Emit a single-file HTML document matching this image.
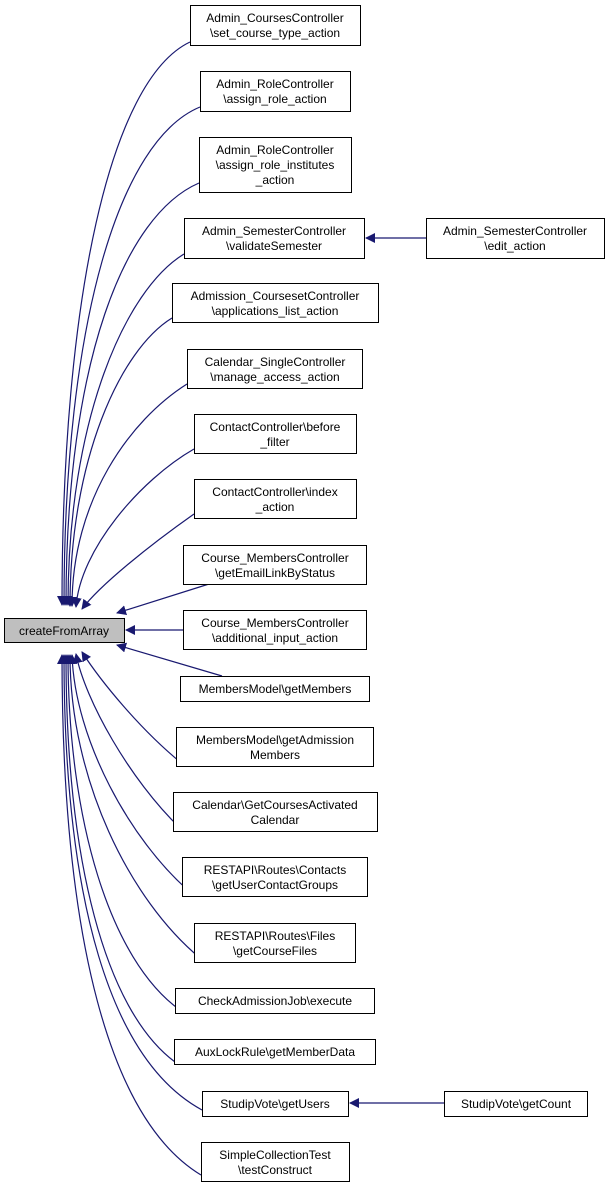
<!DOCTYPE html>
<html><head><meta charset="utf-8"><style>
body{margin:0;background:#fff;}
svg text{font-family:"Liberation Sans",Arial,sans-serif;font-size:12px;fill:#000;text-anchor:middle;}
</style></head><body>
<svg width="611" height="1188" viewBox="0 0 611 1188" xmlns="http://www.w3.org/2000/svg">
<defs><marker id="a" viewBox="0 0 10 10" refX="9" refY="5" markerWidth="10" markerHeight="10" markerUnits="userSpaceOnUse" orient="auto"><path d="M0,0 L10,5 L0,10 z" fill="#191970"/></marker></defs>
<g fill="none" stroke="#191970" stroke-width="1.2">
<path d="M190,42 C110,80 62,300 62,605" marker-end="url(#a)"/>
<path d="M200,107 C120,140 64,320 64,605" marker-end="url(#a)"/>
<path d="M199,183 C125,215 66,360 66,605" marker-end="url(#a)"/>
<path d="M184,254 C125,290 68,420 68,605" marker-end="url(#a)"/>
<path d="M172,318 C120,350 70,460 70,606" marker-end="url(#a)"/>
<path d="M187,384 C130,420 72,500 72,606" marker-end="url(#a)"/>
<path d="M194,449 C140,480 80,550 76,607" marker-end="url(#a)"/>
<path d="M194,514 C150,545 100,585 82,609" marker-end="url(#a)"/>
<path d="M209,584 L117,613" marker-end="url(#a)"/>
<path d="M183,630 L126,630" marker-end="url(#a)"/>
<path d="M222,676 L117,645" marker-end="url(#a)"/>
<path d="M185,766 C140,730 100,680 82,652" marker-end="url(#a)"/>
<path d="M180,828 C130,780 85,700 76,654" marker-end="url(#a)"/>
<path d="M190,892 C130,840 75,740 72,655" marker-end="url(#a)"/>
<path d="M200,958 C130,900 70,780 70,655" marker-end="url(#a)"/>
<path d="M180,1010 C110,960 68,820 68,655" marker-end="url(#a)"/>
<path d="M175,1062 C105,1010 66,860 66,655" marker-end="url(#a)"/>
<path d="M202,1110 C110,1060 64,900 64,655" marker-end="url(#a)"/>
<path d="M201,1175 C110,1120 62,940 62,655" marker-end="url(#a)"/>
<path d="M426,238 L366,238" marker-end="url(#a)"/>
<path d="M444,1103 L350,1103" marker-end="url(#a)"/>
</g>
<g fill="#fff" stroke="#000" stroke-width="1">
<rect x="4.5" y="618.5" width="120" height="24" fill="#bfbfbf"/>
<rect x="190.5" y="5.5" width="170" height="40"/>
<rect x="200.5" y="71.5" width="150" height="40"/>
<rect x="199.5" y="137.5" width="152" height="55"/>
<rect x="184.5" y="218.5" width="180" height="40"/>
<rect x="426.5" y="218.5" width="178" height="40"/>
<rect x="172.5" y="283.5" width="206" height="39"/>
<rect x="187.5" y="349.5" width="175" height="39"/>
<rect x="194.5" y="414.5" width="162" height="39"/>
<rect x="194.5" y="479.5" width="162" height="39"/>
<rect x="183.5" y="545.5" width="183" height="39"/>
<rect x="183.5" y="610.5" width="183" height="39"/>
<rect x="180.5" y="676.5" width="189" height="25"/>
<rect x="176.5" y="727.5" width="197" height="39"/>
<rect x="173.5" y="792.5" width="204" height="39"/>
<rect x="182.5" y="857.5" width="185" height="39"/>
<rect x="194.5" y="923.5" width="161" height="39"/>
<rect x="175.5" y="988.5" width="199" height="25"/>
<rect x="174.5" y="1039.5" width="201" height="25"/>
<rect x="202.5" y="1091.5" width="146" height="25"/>
<rect x="444.5" y="1091.5" width="143" height="25"/>
<rect x="201.5" y="1142.5" width="148" height="39"/>
</g>
<text x="64" y="635">createFromArray</text>
<text x="275" y="22">Admin_CoursesController</text><text x="275" y="37">\set_course_type_action</text>
<text x="275" y="88">Admin_RoleController</text><text x="275" y="103">\assign_role_action</text>
<text x="275" y="154">Admin_RoleController</text><text x="275" y="169">\assign_role_institutes</text><text x="275" y="184">_action</text>
<text x="274" y="235">Admin_SemesterController</text><text x="274" y="250">\validateSemester</text>
<text x="515" y="235">Admin_SemesterController</text><text x="515" y="250">\edit_action</text>
<text x="275" y="300">Admission_CoursesetController</text><text x="275" y="315">\applications_list_action</text>
<text x="275" y="366">Calendar_SingleController</text><text x="275" y="381">\manage_access_action</text>
<text x="275" y="431">ContactController\before</text><text x="275" y="446">_filter</text>
<text x="275" y="496">ContactController\index</text><text x="275" y="511">_action</text>
<text x="275" y="562">Course_MembersController</text><text x="275" y="577">\getEmailLinkByStatus</text>
<text x="275" y="627">Course_MembersController</text><text x="275" y="642">\additional_input_action</text>
<text x="275" y="693">MembersModel\getMembers</text>
<text x="275" y="744">MembersModel\getAdmission</text><text x="275" y="759">Members</text>
<text x="275" y="809">Calendar\GetCoursesActivated</text><text x="275" y="824">Calendar</text>
<text x="275" y="874">RESTAPI\Routes\Contacts</text><text x="275" y="889">\getUserContactGroups</text>
<text x="275" y="940">RESTAPI\Routes\Files</text><text x="275" y="955">\getCourseFiles</text>
<text x="275" y="1005">CheckAdmissionJob\execute</text>
<text x="275" y="1056">AuxLockRule\getMemberData</text>
<text x="275" y="1108">StudipVote\getUsers</text>
<text x="516" y="1108">StudipVote\getCount</text>
<text x="275" y="1159">SimpleCollectionTest</text><text x="275" y="1174">\testConstruct</text>
</svg>
</body></html>
